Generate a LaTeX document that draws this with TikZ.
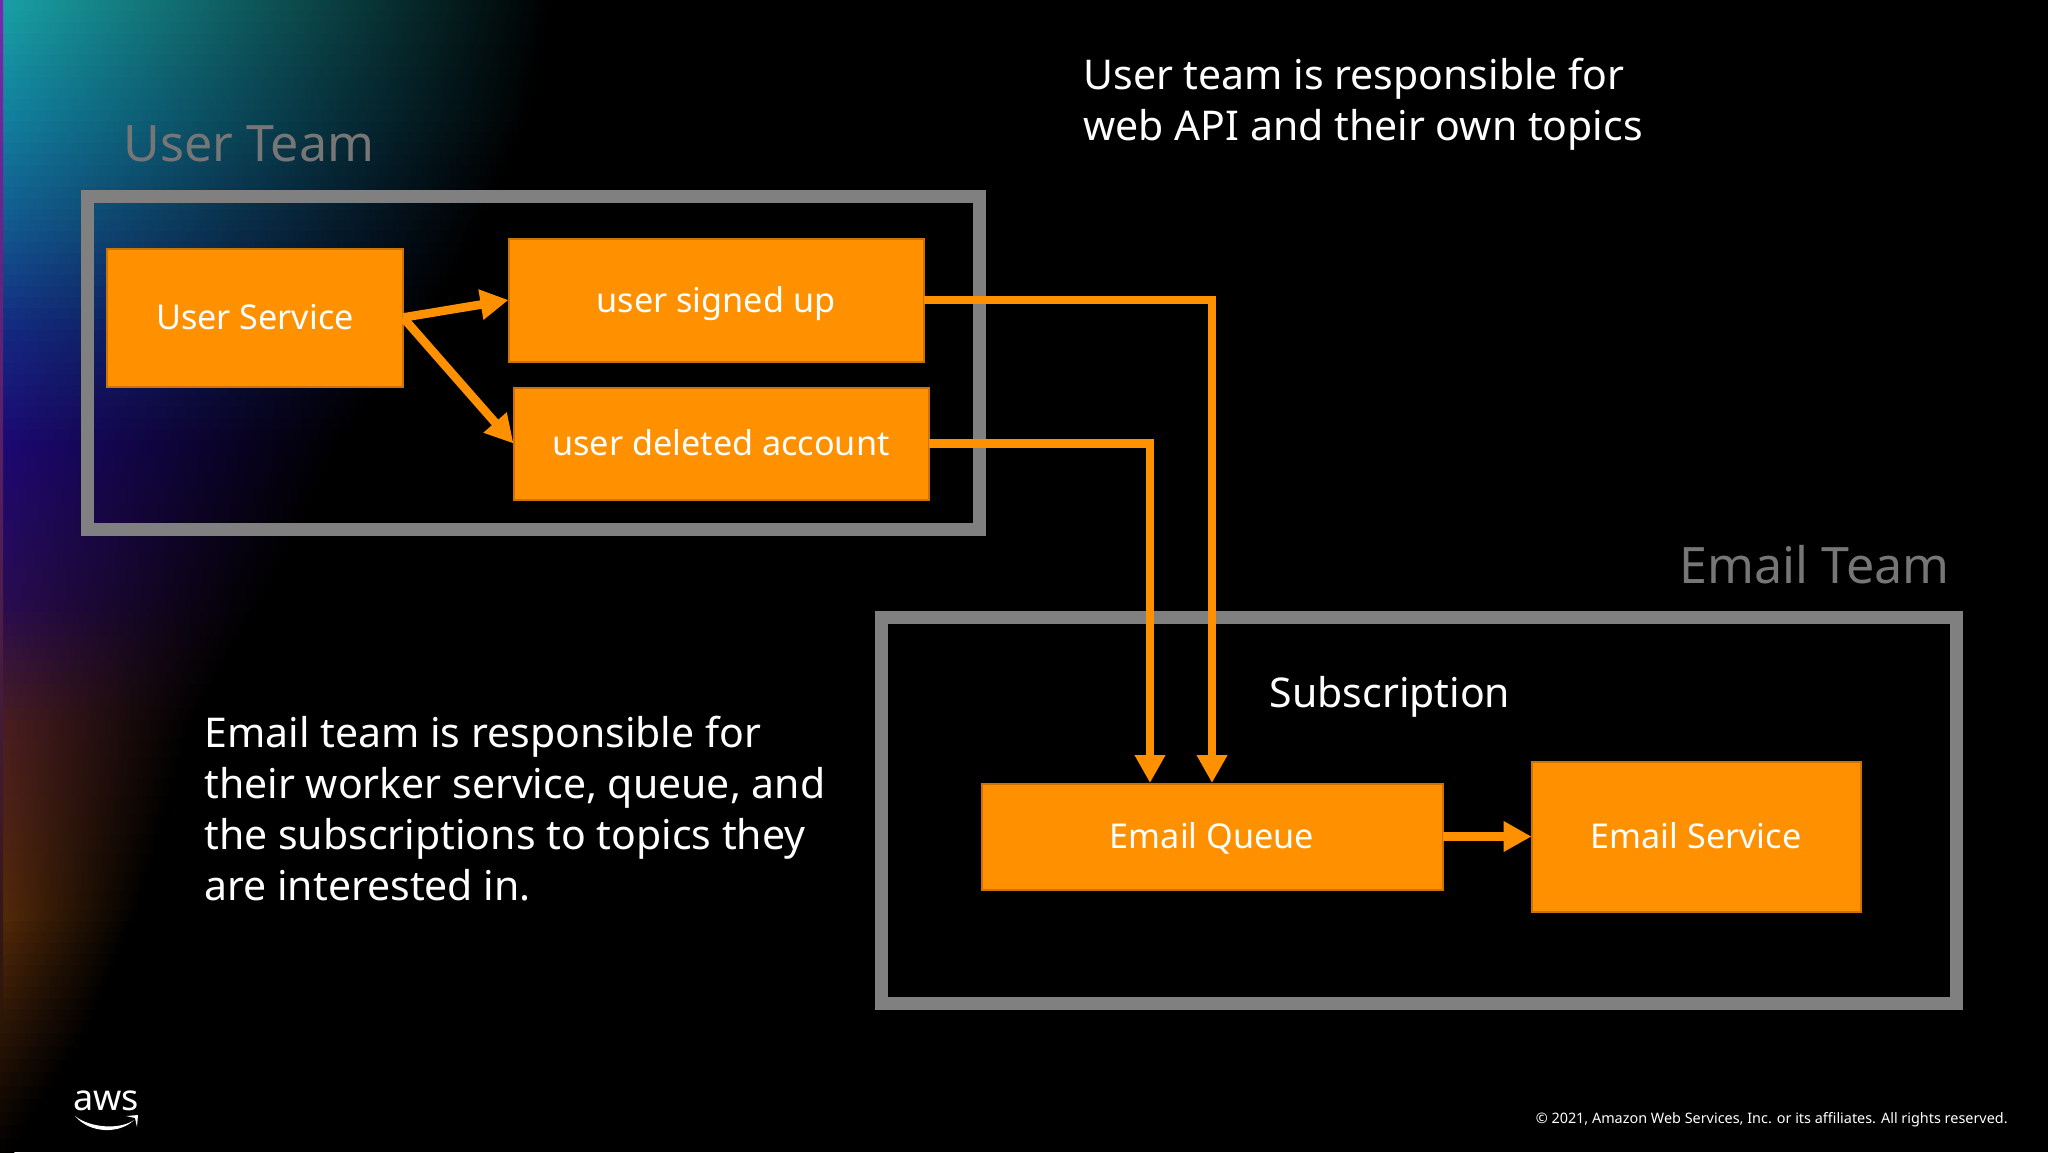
\documentclass[tikz,border=0pt]{standalone}
\usepackage{fontspec}
\setmainfont{Noto Sans}
\usetikzlibrary{arrows.meta}
\definecolor{awsorange}{RGB}{255,144,0}
\definecolor{awsedge}{RGB}{205,115,5}
\definecolor{teamgrey}{RGB}{128,128,128}
\definecolor{titlegrey}{RGB}{118,118,118}
\definecolor{s0}{RGB}{25,160,165}
\definecolor{s1}{RGB}{18,130,160}
\definecolor{s2}{RGB}{18,90,145}
\definecolor{s3}{RGB}{20,40,130}
\definecolor{s4}{RGB}{28,8,115}
\definecolor{s5}{RGB}{42,12,80}
\definecolor{s6}{RGB}{75,30,32}
\definecolor{s7}{RGB}{85,42,8}
\definecolor{s8}{RGB}{45,22,6}
\definecolor{s9}{RGB}{0,0,0}
\tikzset{
  x=0.5pt,y=-0.5pt,
  teambox/.style={draw=teamgrey,line width=6.5pt,fill=none},
  orangebox/.style={draw=awsedge,fill=awsorange,line width=1pt,text=white,font=\fontsize{17.1}{21}\selectfont,inner sep=0pt,outer sep=0pt,text height=12.3pt,text depth=0pt},
  flow/.style={draw=awsorange,line width=4.3pt,-{Triangle[length=14pt,width=14.5pt]}},
  teamtitle/.style={text=titlegrey,font=\fontsize{25.1}{30}\selectfont,inner sep=0pt},
  note/.style={text=white,font=\fontsize{20.5}{25.5}\selectfont,align=left,inner sep=0pt},
}
\begin{document}
\begin{tikzpicture}
\useasboundingbox (0,0) rectangle (2048,1152);
\fill[black] (0,0) rectangle (2048,1152);
% glow on the left edge
\foreach \ya/\yb/\ca/\cb/\ea/\eb in {0/110/s0/s1/550/530,110/220/s1/s2/530/480,220/330/s2/s3/480/420,330/440/s3/s4/420/340,440/600/s4/s5/340/260,600/720/s5/s6/260/190,720/910/s6/s7/190/135,910/1020/s7/s8/135/90,1020/1152/s8/s9/90/6}{
  \foreach \t in {0,10,...,90}{
    \pgfmathsetmacro{\yy}{\ya+(\yb-\ya)*(\t/100)}
    \pgfmathsetmacro{\yz}{\ya+(\yb-\ya)*((\t+10)/100)+1}
    \pgfmathsetmacro{\ee}{\ea+(\eb-\ea)*(\t/100)}
    \colorlet{cc}{\cb!\t!\ca}
    \shade[left color=cc,middle color=cc!42!black,right color=black] (0,\yy) rectangle (\ee,\yz);
  }
}
\shade[top color={rgb,255:red,120;green,40;blue,175},bottom color=s8] (0,0) rectangle (3,1020);

\node[teamtitle,anchor=base west] (usertitle) at (123,161) {User Team};
\node[teamtitle,anchor=base east] (emailtitle) at (1950,583) {Email Team};

\draw[teambox] (87.5,196.5) rectangle (979.5,529.5);
\draw[teambox] (881.5,617.5) rectangle (1956.5,1003);

\node[orangebox,minimum width=148pt,minimum height=69pt] (us) at (255,317.5) {User Service};
\node[orangebox,minimum width=207.5pt,minimum height=61.5pt] (signed) at (716,300) {user signed up};
\node[orangebox,minimum width=207.5pt,minimum height=56pt] (deleted) at (721,443.5) {user deleted account};
\node[orangebox,minimum width=230.5pt,minimum height=53pt] (queue) at (1212,836.5) {Email Queue};
\node[orangebox,minimum width=164.5pt,minimum height=75pt] (service) at (1696,836.5) {Email Service};

\coordinate (q1) at (1150,783);
\coordinate (q2) at (1212,783);
\draw[flow] (us.east) -- (signed.west);
\draw[flow] (us.east) -- (deleted.west);
\draw[flow] (signed.east) -| (q2);
\draw[flow] (deleted.east) -| (q1);
\draw[flow] (queue.east) -- (service.west);

\node[note,anchor=base west] (note1) at (1083,140) {User team is responsible for\\web API and their own topics};
\node[note,anchor=base west] (note2) at (204,900) {Email team is responsible for\\their worker service, queue, and\\the subscriptions to topics they\\are interested in.};
\node[text=white,font=\fontsize{20.5}{25}\selectfont,inner sep=0pt,anchor=base] (subs) at (1390,707) {Subscription};

\node[text=white,font=\fontsize{7.2}{9}\selectfont,inner sep=0pt,anchor=base east] (copy) at (2008,1123) {© 2021, Amazon Web Services, Inc. or its affiliates. All rights reserved.};
\node[text=white,font=\fontsize{18}{20}\selectfont,inner sep=0pt,anchor=base] (aws) at (106,1110) {aws};
\fill[white] (75,1116) .. controls (90,1128) and (120,1130) .. (134,1120) .. controls (120,1134) and (90,1134) .. (75,1116) -- cycle;
\fill[white] (126,1116) -- (138,1115) -- (137,1127) -- (135,1118) -- cycle;
\end{tikzpicture}
\end{document}
